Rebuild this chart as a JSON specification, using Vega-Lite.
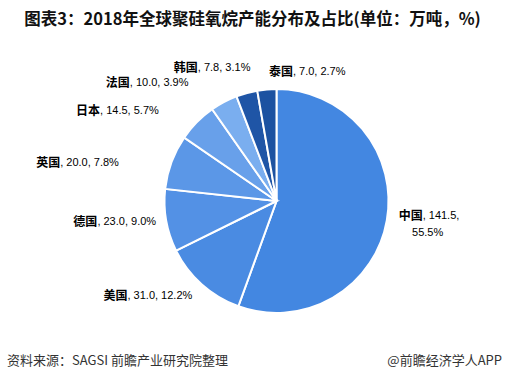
{
  "$schema": "https://vega.github.io/schema/vega-lite/v6.json",
  "autosize": "none",
  "width": 457,
  "height": 376,
  "padding": {"left": 48, "top": 13, "right": 0, "bottom": 0},
  "background": "white",
  "config": {"view": {"stroke": null}},
  "layer": [
    {
      "data": {"values": [
        {"country": "中国", "value": 141.5, "share": 55.5, "rank": 1, "rest": ", 141.5,", "line2": "55.5%"},
        {"country": "美国", "value": 31.0, "share": 12.2, "rank": 2, "rest": ", 31.0, 12.2%", "line2": ""},
        {"country": "德国", "value": 23.0, "share": 9.0, "rank": 3, "rest": ", 23.0, 9.0%", "line2": ""},
        {"country": "英国", "value": 20.0, "share": 7.8, "rank": 4, "rest": ", 20.0, 7.8%", "line2": ""},
        {"country": "日本", "value": 14.5, "share": 5.7, "rank": 5, "rest": ", 14.5, 5.7%", "line2": ""},
        {"country": "法国", "value": 10.0, "share": 3.9, "rank": 6, "rest": ", 10.0, 3.9%", "line2": ""},
        {"country": "韩国", "value": 7.8, "share": 3.1, "rank": 7, "rest": ", 7.8, 3.1%", "line2": ""},
        {"country": "泰国", "value": 7.0, "share": 2.7, "rank": 8, "rest": ", 7.0, 2.7%", "line2": ""}
      ]},
      "encoding": {
        "theta": {"field": "value", "type": "quantitative", "stack": true},
        "order": {"field": "rank", "type": "quantitative"}
      },
      "layer": [
        {
          "mark": {"type": "arc", "outerRadius": 112, "stroke": "white", "strokeWidth": 2},
          "encoding": {
            "color": {"field": "country", "type": "nominal", "legend": null,
              "scale": {"domain": ["中国", "美国", "德国", "英国", "日本", "法国", "韩国", "泰国"],
                        "range": ["#4387e1", "#4a8be2", "#5391e5", "#5b97e7", "#68a0ea", "#7aaeef", "#1f55a6", "#1c52a1"]}}
          }
        },
        {"mark": {"type": "text", "radius": 123, "dx": 25, "dy": -6, "align": "right", "baseline": "middle", "font": "Noto Sans CJK SC", "fontWeight": "bold", "fontSize": 12, "color": "#000"},
         "encoding": {"text": {"condition": {"test": "datum.country === '中国'", "field": "country"}, "value": ""}}},
        {"mark": {"type": "text", "radius": 123, "dx": 25, "dy": -6, "align": "left", "baseline": "middle", "font": "Liberation Sans", "fontSize": 11, "color": "#000"},
         "encoding": {"text": {"condition": {"test": "datum.country === '中国'", "field": "rest"}, "value": ""}}},
        {"mark": {"type": "text", "radius": 123, "dx": 30, "dy": 11, "align": "center", "baseline": "middle", "font": "Liberation Sans", "fontSize": 11, "color": "#000"},
         "encoding": {"text": {"condition": {"test": "datum.country === '中国'", "field": "line2"}, "value": ""}}},

        {"mark": {"type": "text", "radius": 123, "dx": -67, "dy": 3, "align": "right", "baseline": "middle", "font": "Noto Sans CJK SC", "fontWeight": "bold", "fontSize": 12, "color": "#000"},
         "encoding": {"text": {"condition": {"test": "datum.country === '美国'", "field": "country"}, "value": ""}}},
        {"mark": {"type": "text", "radius": 123, "dx": -67, "dy": 3, "align": "left", "baseline": "middle", "font": "Liberation Sans", "fontSize": 11, "color": "#000"},
         "encoding": {"text": {"condition": {"test": "datum.country === '美国'", "field": "rest"}, "value": ""}}},

        {"mark": {"type": "text", "radius": 123, "dx": -58, "dy": 0, "align": "right", "baseline": "middle", "font": "Noto Sans CJK SC", "fontWeight": "bold", "fontSize": 12, "color": "#000"},
         "encoding": {"text": {"condition": {"test": "datum.country === '德国'", "field": "country"}, "value": ""}}},
        {"mark": {"type": "text", "radius": 123, "dx": -58, "dy": 0, "align": "left", "baseline": "middle", "font": "Liberation Sans", "fontSize": 11, "color": "#000"},
         "encoding": {"text": {"condition": {"test": "datum.country === '德国'", "field": "rest"}, "value": ""}}},

        {"mark": {"type": "text", "radius": 123, "dx": -101, "dy": 5, "align": "right", "baseline": "middle", "font": "Noto Sans CJK SC", "fontWeight": "bold", "fontSize": 12, "color": "#000"},
         "encoding": {"text": {"condition": {"test": "datum.country === '英国'", "field": "country"}, "value": ""}}},
        {"mark": {"type": "text", "radius": 123, "dx": -101, "dy": 5, "align": "left", "baseline": "middle", "font": "Liberation Sans", "fontSize": 11, "color": "#000"},
         "encoding": {"text": {"condition": {"test": "datum.country === '英国'", "field": "rest"}, "value": ""}}},

        {"mark": {"type": "text", "radius": 123, "dx": -89, "dy": -3.5, "align": "right", "baseline": "middle", "font": "Noto Sans CJK SC", "fontWeight": "bold", "fontSize": 12, "color": "#000"},
         "encoding": {"text": {"condition": {"test": "datum.country === '日本'", "field": "country"}, "value": ""}}},
        {"mark": {"type": "text", "radius": 123, "dx": -89, "dy": -3.5, "align": "left", "baseline": "middle", "font": "Liberation Sans", "fontSize": 11, "color": "#000"},
         "encoding": {"text": {"condition": {"test": "datum.country === '日本'", "field": "rest"}, "value": ""}}},

        {"mark": {"type": "text", "radius": 123, "dx": -89, "dy": -9, "align": "right", "baseline": "middle", "font": "Noto Sans CJK SC", "fontWeight": "bold", "fontSize": 12, "color": "#000"},
         "encoding": {"text": {"condition": {"test": "datum.country === '法国'", "field": "country"}, "value": ""}}},
        {"mark": {"type": "text", "radius": 123, "dx": -89, "dy": -9, "align": "left", "baseline": "middle", "font": "Liberation Sans", "fontSize": 11, "color": "#000"},
         "encoding": {"text": {"condition": {"test": "datum.country === '法国'", "field": "rest"}, "value": ""}}},

        {"mark": {"type": "text", "radius": 123, "dx": -46, "dy": -14, "align": "right", "baseline": "middle", "font": "Noto Sans CJK SC", "fontWeight": "bold", "fontSize": 12, "color": "#000"},
         "encoding": {"text": {"condition": {"test": "datum.country === '韩国'", "field": "country"}, "value": ""}}},
        {"mark": {"type": "text", "radius": 123, "dx": -46, "dy": -14, "align": "left", "baseline": "middle", "font": "Liberation Sans", "fontSize": 11, "color": "#000"},
         "encoding": {"text": {"condition": {"test": "datum.country === '韩国'", "field": "rest"}, "value": ""}}},

        {"mark": {"type": "text", "radius": 123, "dx": 27, "dy": -6.5, "align": "right", "baseline": "middle", "font": "Noto Sans CJK SC", "fontWeight": "bold", "fontSize": 12, "color": "#000"},
         "encoding": {"text": {"condition": {"test": "datum.country === '泰国'", "field": "country"}, "value": ""}}},
        {"mark": {"type": "text", "radius": 123, "dx": 27, "dy": -6.5, "align": "left", "baseline": "middle", "font": "Liberation Sans", "fontSize": 11, "color": "#000"},
         "encoding": {"text": {"condition": {"test": "datum.country === '泰国'", "field": "rest"}, "value": ""}}}
      ]
    },
    {
      "data": {"values": [{"t": "图表3：2018年全球聚硅氧烷产能分布及占比(单位：万吨，%)"}]},
      "mark": {"type": "text", "align": "center", "baseline": "middle", "font": "Noto Sans CJK SC", "fontWeight": "bold", "fontSize": 16.5, "color": "#111"},
      "encoding": {"text": {"field": "t"}, "x": {"value": 204.5}, "y": {"value": 7}}
    },
    {
      "data": {"values": [{"t": "资料来源：SAGSI 前瞻产业研究院整理"}]},
      "mark": {"type": "text", "align": "left", "baseline": "middle", "font": "Noto Sans CJK SC", "fontSize": 13, "color": "#333"},
      "encoding": {"text": {"field": "t"}, "x": {"value": -41}, "y": {"value": 348}}
    },
    {
      "data": {"values": [{"t": "@前瞻经济学人APP"}]},
      "mark": {"type": "text", "align": "right", "baseline": "middle", "font": "Noto Sans CJK SC", "fontSize": 13, "color": "#333"},
      "encoding": {"text": {"field": "t"}, "x": {"value": 454}, "y": {"value": 348}}
    }
  ]
}
